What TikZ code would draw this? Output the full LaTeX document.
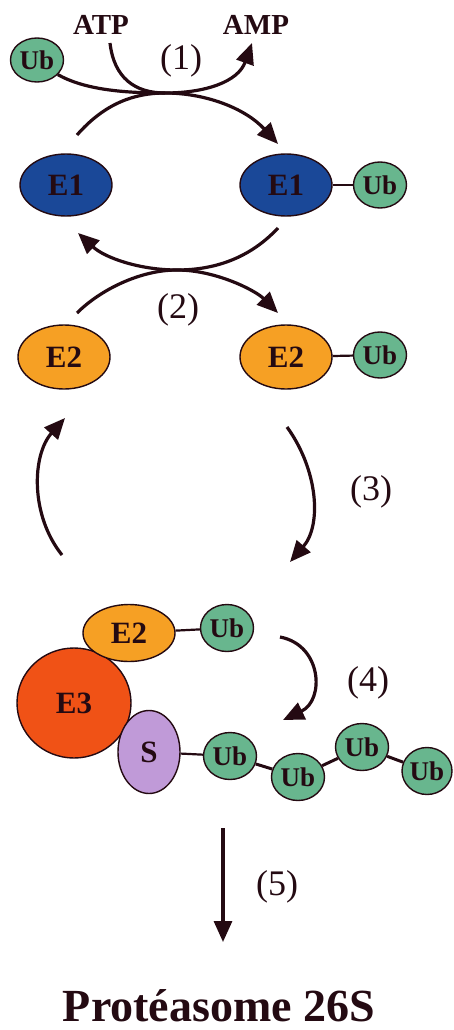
\documentclass[tikz,border=0pt]{standalone}
\usepackage{fontspec}
\setmainfont{Liberation Serif}
\usetikzlibrary{shapes.geometric,arrows.meta}
\definecolor{outl}{RGB}{36,10,18}
\definecolor{eoneblue}{RGB}{26,72,152}
\definecolor{etwoorange}{RGB}{246,160,36}
\definecolor{ubgreen}{RGB}{104,182,142}
\definecolor{ethreered}{RGB}{240,82,22}
\definecolor{slav}{RGB}{192,154,216}
\tikzset{
  blob/.style={ellipse, draw=outl, line width=1.4pt, inner sep=0pt, text=outl},
  bigtxt/.style={font=\bfseries\fontsize{31}{33}\selectfont},
  ubn/.style={blob, fill=ubgreen, minimum width=53pt, minimum height=46pt, font=\bfseries\fontsize{27}{29}\selectfont},
  eonen/.style={blob, bigtxt, fill=eoneblue, minimum width=92pt, minimum height=62pt},
  etwon/.style={blob, bigtxt, fill=etwoorange, minimum width=92pt, minimum height=64pt},
  arr/.style={draw=outl, line width=3.2pt, -{Triangle[length=21pt,width=18pt]}},
  curv/.style={draw=outl, line width=3.2pt},
  link/.style={draw=outl, line width=2.2pt},
  lbl/.style={text=outl, font=\fontsize{36}{38}\selectfont, inner sep=0pt},
  molt/.style={text=outl, font=\bfseries\fontsize{29}{31}\selectfont, inner sep=0pt, anchor=base},
}
\begin{document}
\begin{tikzpicture}[x=1pt,y=-1pt]
\useasboundingbox (0,0) rectangle (454,1030);

% ---- step 1
\node[ubn, minimum height=44pt] (ub0) at (37,60) {Ub};
\node[molt] (atp) at (101,35) {ATP};
\node[molt] (amp) at (256,35) {AMP};
\node[lbl] (l1) at (181,61) {(1)};
\node[eonen] (e1a) at (66,185) {E1};
\node[eonen] (e1b) at (286,185) {E1};
\node[ubn] (ub1) at (380,185) {Ub};
\draw[link] (e1b) -- (ub1);

\coordinate (c1s) at (77,135);
\coordinate (c1m) at (165,93);
\coordinate (atps) at (110,43);
\coordinate (ampt) at (252,43);
\coordinate (c1t) at (278,144);
\draw[curv] (ub0.-35) .. controls (85,90) and (125,93) .. (c1m);
\draw[arr] (c1s) .. controls (105,103) and (135,93) .. (c1m) .. controls (205,93) and (245,108) .. (c1t);
\draw[arr] (atps) .. controls (114,78) and (135,93) .. (c1m) .. controls (205,93) and (238,82) .. (ampt);

% ---- step 2
\node[etwon] (e2a) at (64,357) {E2};
\node[etwon] (e2b) at (286,357) {E2};
\node[ubn] (ub2) at (380,355) {Ub};
\draw[link] (e2b) -- (ub2);
\node[lbl] (l2) at (178,310) {(2)};

\coordinate (c2s) at (278,228);
\coordinate (c2m) at (177,270);
\coordinate (c2ta) at (78,233);
\coordinate (c2sb) at (77,313);
\coordinate (c2tb) at (278,313);
\draw[arr] (c2s) .. controls (250,258) and (215,270) .. (c2m) .. controls (140,270) and (105,258) .. (c2ta);
\draw[arr] (c2sb) .. controls (100,290) and (140,270) .. (c2m) .. controls (215,270) and (255,290) .. (c2tb);

% ---- step 3 and return
\node[lbl] (l3) at (371,492) {(3)};
\coordinate (c3s) at (287,427);
\coordinate (c3t) at (290,562);
\draw[arr] (c3s) .. controls (318,470) and (322,525) .. (c3t);
\coordinate (crs) at (62,555);
\coordinate (crt) at (65,418);
\draw[arr] (crs) .. controls (30,515) and (32,455) .. (crt);

% ---- complex
\node[blob, bigtxt, fill=ethreered, minimum width=114pt, minimum height=110pt] (e3) at (74,703) {E3};
\node[etwon, minimum height=57pt] (e2c) at (129,633) {E2};
\node[blob, bigtxt, fill=slav, minimum width=62pt, minimum height=83pt] (s) at (149,752) {S};
\node[ubn, minimum height=47pt] (uba) at (227,628) {Ub};
\draw[link] (e2c) -- (uba);

\node[ubn, minimum height=47pt] (ubc1) at (230,756) {Ub};
\node[ubn, minimum height=47pt] (ubc2) at (298,777) {Ub};
\node[ubn, minimum height=47pt] (ubc3) at (362,747) {Ub};
\node[ubn, minimum height=47pt, minimum width=50pt] (ubc4) at (427,771) {Ub};
\draw[link] (s) -- (ubc1);
\draw[link, line width=3pt] (ubc1) -- (ubc2);
\draw[link, line width=3pt] (ubc2) -- (ubc3);
\draw[link, line width=3pt] (ubc3) -- (ubc4);

% ---- step 4
\node[lbl] (l4) at (368,683) {(4)};
\coordinate (c4s) at (280,637);
\coordinate (c4t) at (283,720);
\draw[arr] (c4s) .. controls (322,645) and (325,700) .. (c4t);

% ---- step 5
\node[lbl] (l5) at (277,887) {(5)};
\coordinate (c5s) at (223,828);
\coordinate (c5t) at (223,942);
\draw[arr] (c5s) -- (c5t);

\node[text=outl, font=\bfseries\fontsize{46}{50}\selectfont, inner sep=0pt, anchor=base] (prot) at (219,1021) {Protéasome 26S};
\end{tikzpicture}
\end{document}
